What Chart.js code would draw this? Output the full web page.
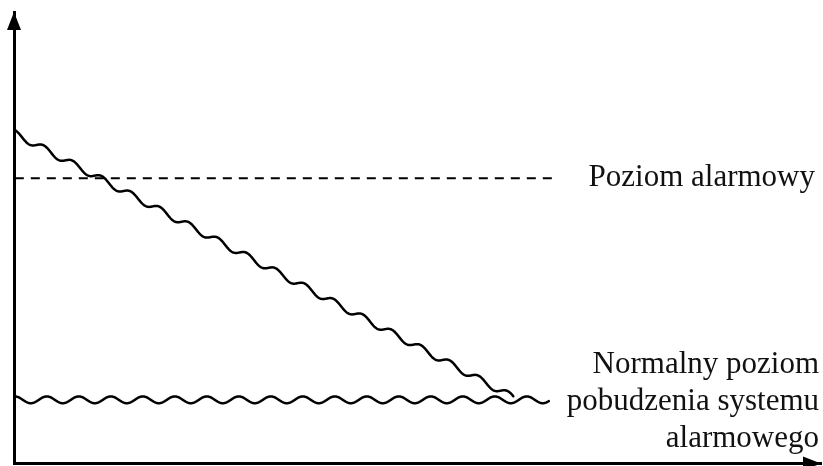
<!DOCTYPE html>
<html>
<head>
<meta charset="utf-8">
<script src="https://cdn.jsdelivr.net/npm/chart.js@4.4.1/dist/chart.umd.min.js"></script>
<style>
  html, body { margin: 0; padding: 0; background: #fff; }
  #wrap { width: 823px; height: 466px; }
</style>
</head>
<body>
<div id="wrap"><canvas id="myChart"></canvas></div>
<script>
// values, axes run 0..100
const spadekX = [0.1, 61.9];
const spadekY = [73.1, 14.6];
const normalnyX = [0.1, 66.3];
const normalnyY = [14.1, 14.1];
const alarmX = [0.1, 66.9];
const alarmY = [63.2, 63.2];

const alarmLabel = ["Poziom alarmowy"];
const normalLabel = ["Normalny poziom", "pobudzenia systemu", "alarmowego"];

function pts(xs, ys) {
  return xs.map((x, i) => ({ x: x, y: ys[i] }));
}

// draws a wavy line through the points of the datasets flagged with "wavy"
const wavyPlugin = {
  id: "wavy",
  afterDatasetsDraw(chart) {
    const ctx = chart.ctx;
    chart.data.datasets.forEach((ds, i) => {
      if (!ds.wavy) return;
      const p = chart.getDatasetMeta(i).data;
      ctx.save();
      ctx.strokeStyle = "#000";
      ctx.lineWidth = 2.5;
      ctx.lineJoin = "round";
      ctx.lineCap = "round";
      ctx.beginPath();
      for (let k = 0; k < p.length - 1; k++) {
        const x0 = p[k].x, y0 = p[k].y, x1 = p[k + 1].x, y1 = p[k + 1].y;
        const m = (y1 - y0) / (x1 - x0);
        const amp = 3.4, wl = ds.waveLength;
        for (let s = 0; s <= x1 - x0; s += 0.5) {
          const x = x0 + s;
          const y = y0 + m * s - amp * Math.cos(2 * Math.PI * s / wl);
          if (k === 0 && s === 0) ctx.moveTo(x, y); else ctx.lineTo(x, y);
        }
      }
      ctx.stroke();
      ctx.restore();
    });
  }
};

// arrows on the axes and the labels on the right
const axisPlugin = {
  id: "axisExtras",
  afterDraw(chart) {
    const ctx = chart.ctx;
    const xs = chart.scales.x, ys = chart.scales.y;
    const left = xs.left, bottom = ys.bottom;
    ctx.save();
    ctx.fillStyle = "#000";
    // y arrow
    ctx.beginPath();
    ctx.moveTo(left, ys.top);
    ctx.lineTo(left - 7, ys.top + 18);
    ctx.lineTo(left + 7, ys.top + 18);
    ctx.closePath();
    ctx.fill();
    // x arrow
    ctx.beginPath();
    ctx.moveTo(xs.right, bottom);
    ctx.lineTo(xs.right - 18, bottom - 7);
    ctx.lineTo(xs.right - 18, bottom + 7);
    ctx.closePath();
    ctx.fill();

    ctx.fillStyle = "#111";
    ctx.font = "31px 'Liberation Serif'";
    ctx.textAlign = "right";
    ctx.textBaseline = "alphabetic";
    ctx.fillText(alarmLabel[0], 815, 186);
    normalLabel.forEach((t, i) => {
      ctx.fillText(t, 819, 373 + i * 37);
    });
    ctx.restore();
  }
};

new Chart(document.getElementById("myChart"), {
  type: "line",
  data: {
    datasets: [
      {
        label: "spadek",
        data: pts(spadekX, spadekY),
        showLine: false,
        pointRadius: 0,
        wavy: true,
        waveLength: 29
      },
      {
        label: "normalny",
        data: pts(normalnyX, normalnyY),
        showLine: false,
        pointRadius: 0,
        wavy: true,
        waveLength: 32
      },
      {
        label: "alarm",
        data: pts(alarmX, alarmY),
        borderColor: "#000",
        borderWidth: 2,
        borderDash: [9, 7],
        pointRadius: 0
      }
    ]
  },
  options: {
    responsive: true,
    maintainAspectRatio: false,
    animation: false,
    layout: { padding: { left: 14, right: 2, top: 12, bottom: 2.5 } },
    plugins: {
      legend: { display: false },
      tooltip: { enabled: false }
    },
    scales: {
      x: {
        type: "linear",
        min: 0,
        max: 100,
        ticks: { display: false },
        grid: { display: false, drawTicks: false },
        border: { display: true, color: "#000", width: 3 }
      },
      y: {
        type: "linear",
        min: 0,
        max: 100,
        ticks: { display: false },
        grid: { display: false, drawTicks: false },
        border: { display: true, color: "#000", width: 3 }
      }
    }
  },
  plugins: [wavyPlugin, axisPlugin]
});
</script>
</body>
</html>
